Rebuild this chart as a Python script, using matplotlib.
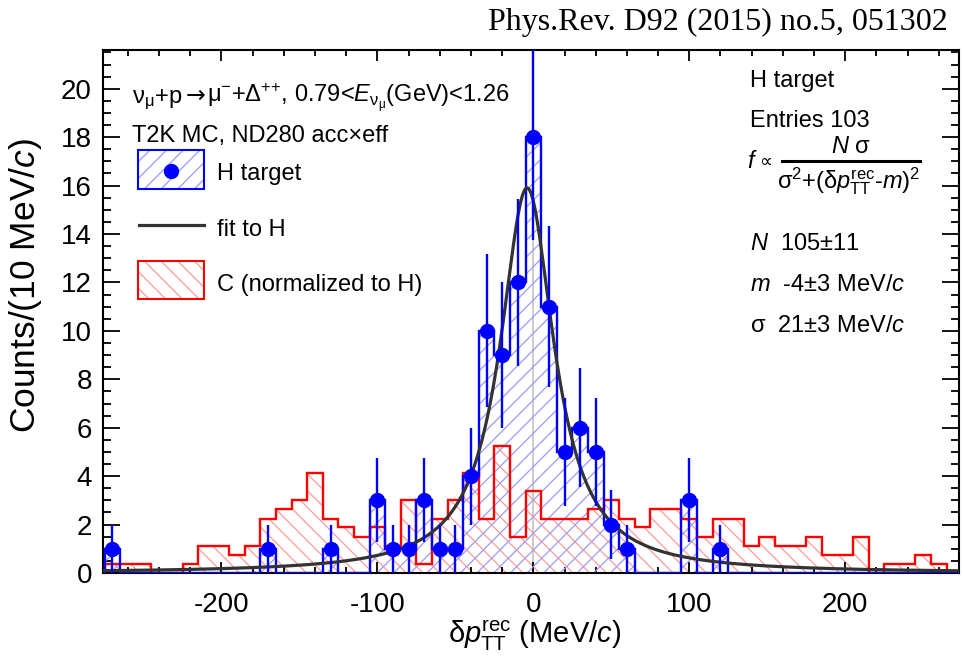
import numpy as np
import matplotlib
matplotlib.use("Agg")
import matplotlib.pyplot as plt
from matplotlib.patches import Rectangle
from matplotlib.lines import Line2D
from matplotlib.transforms import Affine2D
from matplotlib.ticker import MultipleLocator

plt.rcParams['font.family'] = ['Liberation Sans', 'DejaVu Sans']
plt.rcParams['mathtext.fontset'] = 'custom'
plt.rcParams['mathtext.rm'] = 'Liberation Sans'
plt.rcParams['mathtext.it'] = 'Liberation Sans:italic'
plt.rcParams['mathtext.bf'] = 'Liberation Sans:bold'
plt.rcParams['mathtext.fallback'] = 'stixsans'
plt.rcParams['axes.unicode_minus'] = False
plt.rcParams['hatch.linewidth'] = 0.9

# ---------------- data ----------------
bin_centers = list(range(-270, 271, 10))   # MeV/c, bin width 10
bin_width = 10
h_counts = [1, 0, 0, 0, 0, 0, 0, 0, 0, 0,
            1, 0, 0, 0, 1, 0, 0, 3, 1, 1,
            3, 1, 1, 4, 10, 9, 12, 18, 11, 5,
            6, 5, 2, 1, 0, 0, 0, 3, 0, 1,
            0, 0, 0, 0, 0, 0, 0, 0, 0, 0,
            0, 0, 0, 0, 0]
c_norm = [0.38, 0.38, 0.38, 0.0, 0.0, 0.38, 1.13, 1.13, 0.75, 1.13,
          2.25, 2.63, 3.0, 4.13, 2.25, 1.88, 1.5, 1.88, 1.13, 3.0,
          0.38, 2.25, 3.0, 4.13, 2.25, 5.25, 1.5, 3.38, 2.25, 2.25,
          2.25, 2.63, 3.0, 2.25, 1.88, 2.63, 2.63, 2.25, 1.5, 2.25,
          2.25, 1.13, 1.5, 1.13, 1.13, 1.5, 0.75, 0.75, 1.5, 0.0,
          0.38, 0.38, 0.75, 0.38, 0.0]
fit_N, fit_m, fit_sigma = 105.0, -4.0, 21.0
x_ticks = [-200, -100, 0, 100, 200]
y_ticks = list(range(0, 21, 2))

W, H = 963, 664
fig = plt.figure(figsize=(W / 100, H / 100), dpi=100)
ax = fig.add_axes([103 / W, 1 - 573 / H, 856 / W, 523 / H])
pix = Affine2D().scale(1 / W, -1 / H).translate(0, 1) + fig.transFigure

centers = np.array(bin_centers, dtype=float)
edges = np.append(centers - bin_width / 2, centers[-1] + bin_width / 2)
h = np.array(h_counts, dtype=float)
c = np.array(c_norm, dtype=float)

ax.axvline(0, color='#c8c8c8', lw=1.3, zorder=0)
ax.stairs(c, edges, fill=True, facecolor='none', edgecolor='#ff9a9a',
          hatch='\\\\', lw=0, zorder=1)
ax.stairs(h, edges, fill=True, facecolor='none', edgecolor='#9a9aff',
          hatch='//', lw=0, zorder=2)
ax.stairs(c, edges, color='#ff0000', lw=1.7, zorder=3)
ax.stairs(h, edges, color='#0000ff', lw=1.7, zorder=4)

xf = np.linspace(-276, 273, 401)
yf = fit_N * bin_width / np.pi * fit_sigma / (fit_sigma ** 2 + (xf - fit_m) ** 2)
ax.plot(xf, yf, color='#333333', lw=2.3, zorder=5)

m = h > 0
ax.errorbar(centers[m], h[m], yerr=np.sqrt(h[m]), fmt='o', color='#0000ff',
            ms=10, elinewidth=1.7, capsize=0, zorder=6)

ax.set_xlim(-276, 273)
ax.set_ylim(0, 21.6)
ax.set_xticks(x_ticks)
ax.set_yticks(y_ticks)
ax.xaxis.set_minor_locator(MultipleLocator(20))
ax.yaxis.set_minor_locator(MultipleLocator(0.5))
ax.tick_params(which='both', direction='in', top=True, right=True,
               labelsize=20, width=1.3, colors='black')
ax.tick_params(axis='x', which='major', length=8, pad=14)
ax.tick_params(axis='x', which='minor', length=4)
ax.tick_params(axis='y', which='major', length=12, pad=8)
ax.tick_params(axis='y', which='minor', length=6)
for s in ax.spines.values():
    s.set_linewidth(1.5)

# axis titles
fig.text(26, 138, 'Counts/(10 MeV/$c$)', transform=pix, rotation=90,
         ha='center', va='top', fontsize=25.5)
fig.text(535, 636, r'$\mathrm{δ}p^{\mathrm{rec}}_{\mathrm{TT}}$ (MeV/$c$)',
         transform=pix, ha='center', va='center', fontsize=21)

# reference at top
fig.text(948, 22, 'Phys.Rev. D92 (2015) no.5, 051302', transform=pix,
         ha='right', va='center', fontsize=23, family='Liberation Serif')

# left annotation
fs = 17
fig.text(132, 103, r'$\mathrm{ν_{μ}}$+p', transform=pix, ha='left',
         va='baseline', fontsize=fs)
fig.text(186, 103, '→', transform=pix, ha='left', va='baseline',
         fontsize=fs, family='DejaVu Sans')
fig.text(207, 103, r'μ$^{-}$+Δ$^{{+}{+}}$, 0.79<$E_{\mathrm{ν_{μ}}}$(GeV)<1.26',
         transform=pix, ha='left', va='baseline', fontsize=fs)
fig.text(132, 142, 'T2K MC, ND280 acc×eff', transform=pix, ha='left',
         va='baseline', fontsize=fs)

# legend
fig.add_artist(Rectangle((138, 150), 66, 39, transform=pix, facecolor='none',
                         edgecolor='#9a9aff', hatch='//', lw=0))
fig.add_artist(Rectangle((138, 150), 66, 39, transform=pix, fill=False,
                         edgecolor='#0000ff', lw=1.5))
fig.add_artist(Line2D([171], [171], transform=pix, marker='o', ms=10,
                      color='#0000ff', ls='none'))
fig.add_artist(Line2D([139, 204], [225, 225], transform=pix, color='#333333',
                      lw=2.3))
fig.add_artist(Rectangle((138, 261), 66, 38, transform=pix, facecolor='none',
                         edgecolor='#ff9a9a', hatch='\\\\', lw=0))
fig.add_artist(Rectangle((138, 261), 66, 38, transform=pix, fill=False,
                         edgecolor='#ff0000', lw=1.5))
fig.text(217, 180, 'H target', transform=pix, ha='left', va='baseline', fontsize=fs)
fig.text(217, 236, 'fit to H', transform=pix, ha='left', va='baseline', fontsize=fs)
fig.text(217, 291, 'C (normalized to H)', transform=pix, ha='left',
         va='baseline', fontsize=fs)

# right annotation
fig.text(747, 168, r'$f$', transform=pix, ha='left', va='baseline', fontsize=fs)
fig.text(759, 167, '∝', transform=pix, ha='left', va='baseline', fontsize=13,
         family='DejaVu Sans')
fig.text(750, 87, 'H target', transform=pix, ha='left', va='baseline', fontsize=fs)
fig.text(750, 127, 'Entries 103', transform=pix, ha='left', va='baseline', fontsize=fs)
fig.add_artist(Line2D([782, 920], [161, 161], transform=pix, color='black', lw=2.2))
fig.text(851, 153, r'$N$ σ', transform=pix, ha='center', va='baseline', fontsize=fs)
fig.text(849, 188, r'$\mathrm{σ}^{2}$+($\mathrm{δ}p^{\mathrm{rec}}_{\mathrm{TT}}$-$m$)$^{2}$',
         transform=pix, ha='center', va='baseline', fontsize=fs)
fig.text(750, 250, r'$N$  105±11', transform=pix, ha='left', va='baseline', fontsize=fs)
fig.text(750, 291, r'$m$  -4±3 MeV/$c$', transform=pix, ha='left', va='baseline', fontsize=fs)
fig.text(750, 332, r'σ  21±3 MeV/$c$', transform=pix, ha='left', va='baseline', fontsize=fs)

fig.savefig('out.png', dpi=100)
